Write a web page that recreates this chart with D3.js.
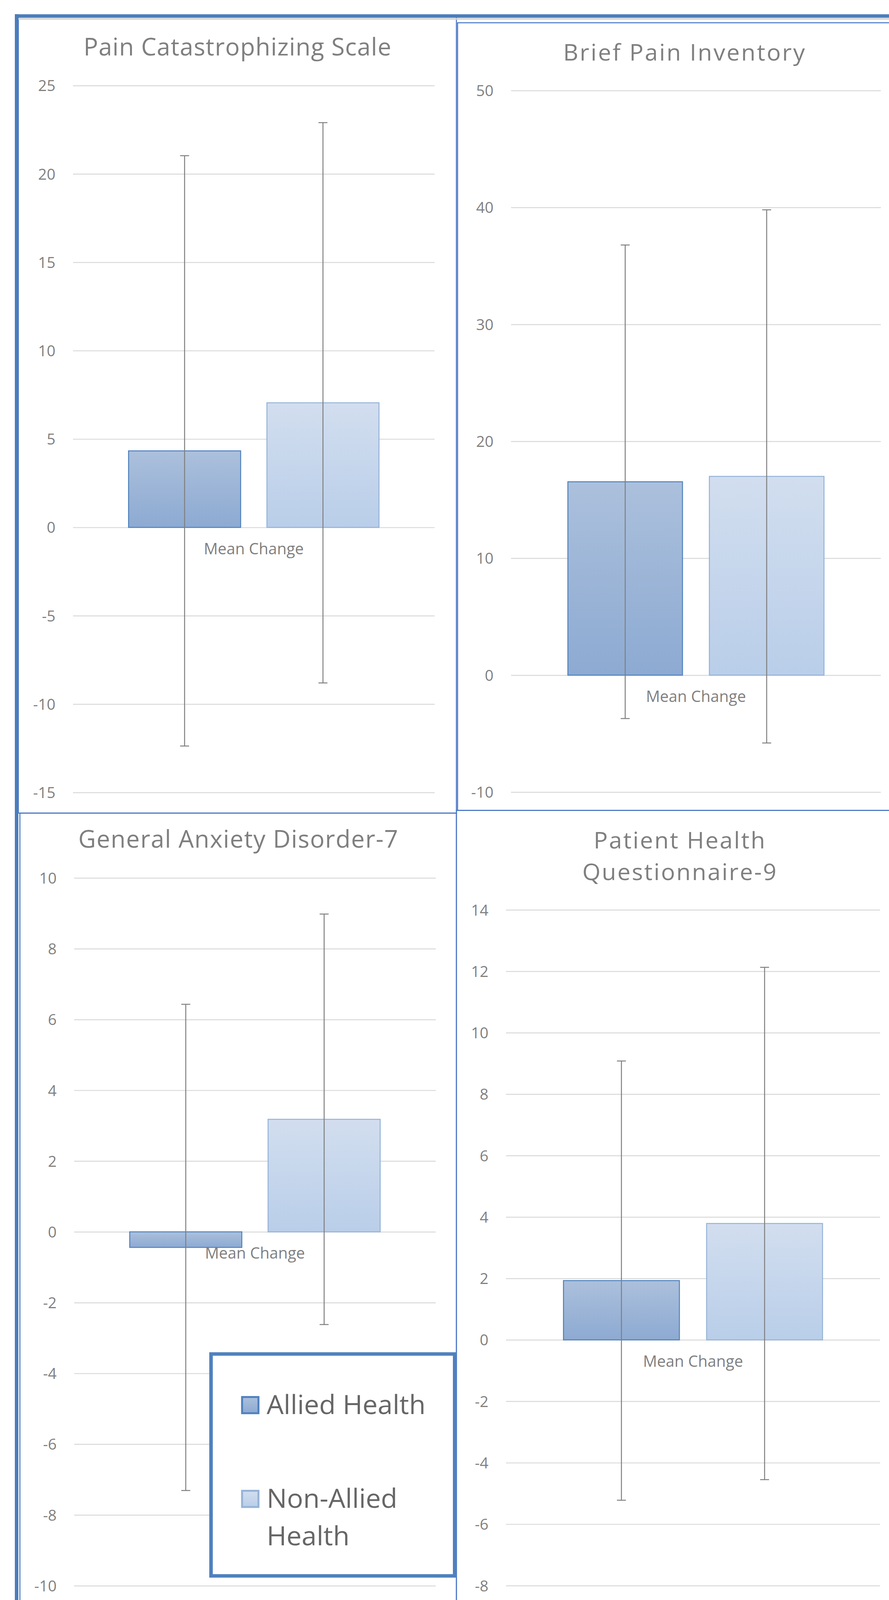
<!DOCTYPE html>
<html>
<head>
<meta charset="utf-8">
<script src="https://cdn.jsdelivr.net/npm/d3@7"></script>
<style>
  html, body { margin: 0; padding: 0; background: #fff; overflow: hidden; }
  #chart svg { display: block; }
  text { font-family: "Open Sans", sans-serif; }
</style>
</head>
<body>
<div id="chart"></div>
<script>
// values
const titles = [
  ["Pain Catastrophizing Scale"],
  ["Brief Pain Inventory"],
  ["General Anxiety Disorder-7"],
  ["Patient Health", "Questionnaire-9"]
];
const groups = ["Allied Health", "Non-Allied Health"];
const legendLines = [["Allied Health"], ["Non-Allied", "Health"]];
const category = "Mean Change";
const alliedMean = [4.33, 16.54, -0.44, 1.93];
const alliedSD = [16.70, 20.25, 6.87, 7.15];
const nonAlliedMean = [7.05, 17.0, 3.18, 3.79];
const nonAlliedSD = [15.85, 22.8, 5.80, 8.34];
const yMin = [-15, -10, -10, -8];
const yMax = [25, 50, 10, 14];
const yStep = [5, 10, 2, 2];

// layout of the four chart boxes (pixels in a 2277 x 4146 drawing)
const layout = [
  { x0: 187, x1: 1113, top: 221.6, bottom: 2053.6, frame: [47, 44, 1122, 2063],
    titleX: 608, titleY: [144], titleW: [788], titleSize: 62 },
  { x0: 1309, x1: 2256, top: 234.6, bottom: 2052.5, frame: [1172, 59, 1130, 2041],
    titleX: 1752, titleY: [157], titleW: [619], titleSize: 60 },
  { x0: 190, x1: 1116, top: 2275, bottom: 4109, frame: [51, 2107, 1118, 2080],
    titleX: 610, titleY: [2197], titleW: [819], titleSize: 62 },
  { x0: 1296, x1: 2254, top: 2357.7, bottom: 4108.7, frame: [1169, 2100, 1130, 2080],
    titleX: 1740, titleY: [2199, 2281], titleW: [439, 497], titleSize: 60 }
];

const W = 2277, H = 4146;
const textGray = "#7f7f7f";

// fit the drawing to the visible window so the bottom row is not lost
const svg = d3.select("#chart")
  .append("svg")
  .attr("width", window.innerWidth || W)
  .attr("height", window.innerHeight || H)
  .attr("viewBox", `0 0 ${W} ${H}`)
  .attr("preserveAspectRatio", "none");

// gradients for the bars
const defs = svg.append("defs");
const grads = [
  { id: "gAllied", top: "#abc0dc", bottom: "#8daad2" },
  { id: "gNon", top: "#d2deef", bottom: "#b9cee9" }
];
grads.forEach(g => {
  const lg = defs.append("linearGradient")
    .attr("id", g.id)
    .attr("x1", 0).attr("y1", 0).attr("x2", 0).attr("y2", 1);
  lg.append("stop").attr("offset", "0%").attr("stop-color", g.top);
  lg.append("stop").attr("offset", "100%").attr("stop-color", g.bottom);
});
const barFill = ["url(#gAllied)", "url(#gNon)"];
const barStroke = ["#4f81bd", "#95b3d7"];

svg.append("rect").attr("width", W).attr("height", H).attr("fill", "#fff");

layout.forEach((L, i) => {
  const g = svg.append("g");

  // box around each chart
  g.append("rect")
    .attr("x", L.frame[0]).attr("y", L.frame[1])
    .attr("width", L.frame[2]).attr("height", L.frame[3])
    .attr("fill", "none")
    .attr("stroke", "#4472c4")
    .attr("stroke-width", 2.5);

  const y = d3.scaleLinear()
    .domain([yMin[i], yMax[i]])
    .range([L.bottom, L.top]);

  const ticks = d3.range(yMin[i], yMax[i] + yStep[i] / 2, yStep[i]);

  // gridlines + labels through a left axis
  const axis = g.append("g")
    .attr("transform", `translate(${L.x0},0)`)
    .call(d3.axisLeft(y)
      .tickValues(ticks)
      .tickSize(-(L.x1 - L.x0))
      .tickPadding(45)
      .tickFormat(d => String(d)));
  axis.select(".domain").remove();
  axis.selectAll(".tick line")
    .attr("stroke", "#d9d9d9")
    .attr("stroke-width", 2.5);
  axis.selectAll(".tick text")
    .attr("fill", textGray)
    .style("font-size", "39px")
    .style("font-family", "'Open Sans', sans-serif")
    .attr("dy", "0.36em");

  const x = d3.scaleBand()
    .domain(groups)
    .range([L.x0, L.x1])
    .paddingInner(0.19)
    .paddingOuter(0.4015);

  const means = [alliedMean[i], nonAlliedMean[i]];
  const sds = [alliedSD[i], nonAlliedSD[i]];
  const rows = groups.map((name, k) => ({ name, k, mean: means[k], sd: sds[k] }));

  // bars
  g.selectAll("rect.bar")
    .data(rows)
    .join("rect")
    .attr("class", "bar")
    .attr("x", d => x(d.name))
    .attr("width", x.bandwidth())
    .attr("y", d => y(Math.max(0, d.mean)))
    .attr("height", d => Math.abs(y(d.mean) - y(0)))
    .attr("fill", d => barFill[d.k])
    .attr("stroke", d => barStroke[d.k])
    .attr("stroke-width", 2.5);

  // error bars
  const cap = 11.5;
  const err = g.selectAll("g.err")
    .data(rows)
    .join("g")
    .attr("class", "err")
    .attr("stroke", "#808080")
    .attr("stroke-width", 2.5);
  err.append("line")
    .attr("x1", d => x(d.name) + x.bandwidth() / 2)
    .attr("x2", d => x(d.name) + x.bandwidth() / 2)
    .attr("y1", d => y(d.mean + d.sd))
    .attr("y2", d => y(d.mean - d.sd));
  [1, -1].forEach(s => {
    err.append("line")
      .attr("x1", d => x(d.name) + x.bandwidth() / 2 - cap)
      .attr("x2", d => x(d.name) + x.bandwidth() / 2 + cap)
      .attr("y1", d => y(d.mean + s * d.sd))
      .attr("y2", d => y(d.mean + s * d.sd));
  });

  // category label under the zero line
  g.append("text")
    .attr("x", (L.x0 + L.x1) / 2)
    .attr("y", y(0) + 55)
    .attr("dy", "0.36em")
    .attr("text-anchor", "middle")
    .attr("fill", textGray)
    .style("font-size", "40px")
    .text(category);

  // title
  titles[i].forEach((line, j) => {
    g.append("text")
      .attr("x", L.titleX - L.titleW[j] / 2)
      .attr("y", L.titleY[j])
      .attr("textLength", L.titleW[j])
      .attr("lengthAdjust", "spacing")
      .attr("fill", textGray)
      .style("font-size", L.titleSize + "px")
      .text(line);
  });
});

// outer frame (thick top and left edges)
svg.append("line")
  .attr("x1", 38).attr("x2", W).attr("y1", 49).attr("y2", 49)
  .attr("stroke", "#d4d4d4").attr("stroke-width", 4);
svg.append("line")
  .attr("x1", 38).attr("x2", W).attr("y1", 41.5).attr("y2", 41.5)
  .attr("stroke", "#4a7ebb").attr("stroke-width", 9);
svg.append("line")
  .attr("x1", 42.5).attr("x2", 42.5).attr("y1", 37).attr("y2", H)
  .attr("stroke", "#4a7ebb").attr("stroke-width", 9);

// legend box
const legend = svg.append("g");
legend.append("rect")
  .attr("x", 540.5).attr("y", 3508.5)
  .attr("width", 624).attr("height", 575)
  .attr("fill", "#fff")
  .attr("stroke", "#4f81bd")
  .attr("stroke-width", 9);

const legendY = d3.scalePoint()
  .domain(groups)
  .range([3641, 3884]);

groups.forEach((name, k) => {
  const cy = legendY(name);
  legend.append("rect")
    .attr("x", 620).attr("y", cy - 21)
    .attr("width", 42).attr("height", 42)
    .attr("fill", barFill[k])
    .attr("stroke", barStroke[k])
    .attr("stroke-width", 5);
  legendLines[k].forEach((line, j) => {
    legend.append("text")
      .attr("x", 683)
      .attr("y", cy + 23 + j * 97)
      .attr("fill", "#666666")
      .style("font-size", "69px")
      .text(line);
  });
});
</script>
</body>
</html>
